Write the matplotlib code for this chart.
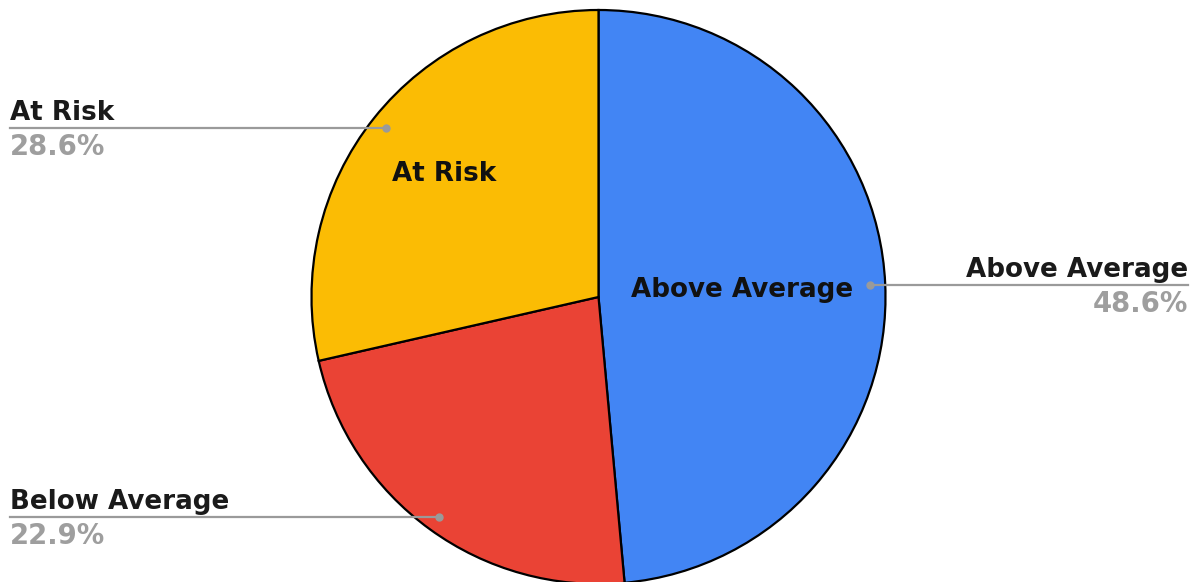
import numpy as np
import matplotlib
matplotlib.use("Agg")
import matplotlib.pyplot as plt

labels = ["Above Average", "Below Average", "At Risk"]
values = [48.6, 22.9, 28.6]
pct_labels = ["48.6%", "22.9%", "28.6%"]
colors = ["#4285F4", "#EA4335", "#FBBC04"]
inner_shown = [True, False, True]

W, H = 1197, 582
fig = plt.figure(figsize=(W / 100, H / 100), dpi=100)
ax = fig.add_axes([0, 0, 1, 1])
ax.set_xlim(0, W)
ax.set_ylim(0, H)
ax.set_aspect("equal")
ax.axis("off")

cx, cy, R = 598.5, H - 297, 287
wedges, _ = ax.pie(values, colors=colors, startangle=90, counterclock=False,
                   center=(cx, cy), radius=R,
                   wedgeprops=dict(edgecolor="black", linewidth=1.6))
ax.set_xlim(0, W)
ax.set_ylim(0, H)

fs = 18.8
fs_pct = 19.8
line_c = "#9a9a9a"
pct_c = "#9e9e9e"
inner_r = {0: 0.50, 2: 0.69}
for i, w in enumerate(wedges):
    ang = np.deg2rad((w.theta1 + w.theta2) / 2)
    dx, dy = np.cos(ang), np.sin(ang)
    px, py = cx + 0.946 * R * dx, cy + 0.946 * R * dy
    ax.plot([px], [py], "o", color=line_c, ms=5, zorder=5)
    if dx > 0:
        x_end = 1188
        ha = "right"
    else:
        x_end = 10
        ha = "left"
    ax.plot([px, x_end], [py, py], color=line_c, lw=1.6, zorder=4)
    ax.text(x_end, py + 8, labels[i], ha=ha, va="baseline", fontsize=fs,
            fontweight="bold", color="#1a1a1a")
    ax.text(x_end, py - 5, pct_labels[i], ha=ha, va="top", fontsize=fs_pct,
            fontweight="bold", color=pct_c)
    if inner_shown[i]:
        r = inner_r[i]
        ax.text(cx + r * R * dx, cy + r * R * dy, labels[i], ha="center",
                va="center", fontsize=fs, fontweight="bold", color="#111111")

fig.savefig("out.png", dpi=100)
